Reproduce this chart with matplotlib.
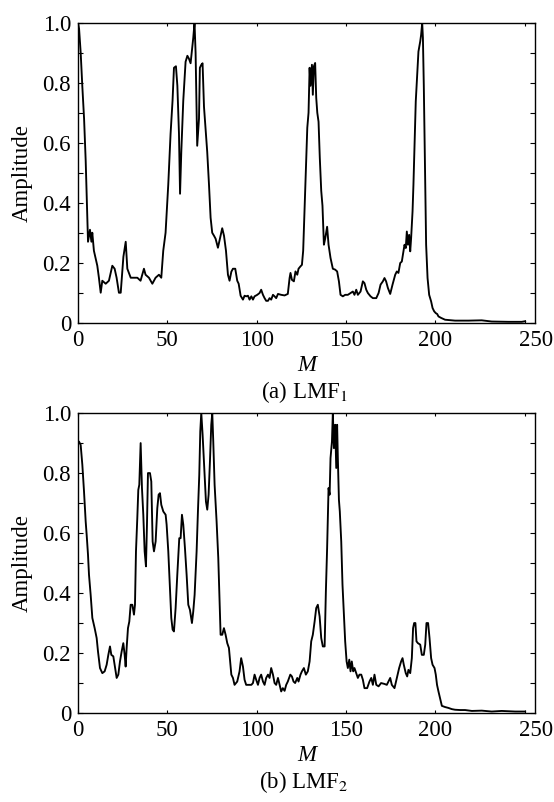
import numpy as np
import matplotlib; matplotlib.use("Agg"); import matplotlib.pyplot as plt
from matplotlib.transforms import ScaledTranslation

plt.rcParams["font.family"] = ["Liberation Serif", "DejaVu Serif"]
plt.rcParams["mathtext.fontset"] = "stix"

# ---- LMF1 ----
m1 = [0, 0.6, 1.5, 2.4, 3.4, 4.3, 5.2, 5.6, 6.7, 7.5, 8.0, 8.9, 10.8, 11.7, 12.7, 13.6, 15.5, 17.3,
      19.2, 20.5, 21.6, 22.9, 23.9, 25.4, 26.7, 27.6, 29.5, 31.3, 33.2, 35.0, 36.9, 37.8, 39.7, 41.6,
      43.4, 45.3, 46.6, 47.7, 49.0, 50.5, 51.8, 52.9, 53.7, 54.8, 55.6, 56.5, 57.1, 57.8, 58.9, 60.2,
      61.2, 62.1, 63.0, 63.9, 64.5, 65.2, 65.8, 66.7, 67.7, 68.2, 69.0, 69.7, 70.5, 72.3, 73.3, 74.2,
      75.1, 76.1, 77.0, 78.3, 79.4, 80.7, 81.7, 82.8, 83.9,
      84.8, 85.8, 86.7, 88.0, 89.1, 89.9, 91.0, 92.3, 93.2, 94.1, 95.1, 96.0, 97.0, 97.9, 98.8, 100.3,
      101.6, 102.5, 103.5, 104.4, 105.3, 106.3, 107.2, 108.1, 109.1, 110.0, 110.9, 111.9, 113.7, 115.6,
      117.4, 118.4, 118.9, 119.7, 120.8, 121.7, 122.7, 123.4, 124.5, 125.3, 126.0, 127.1, 128.3, 129.0,
      129.6, 130.1, 130.9, 131.4, 132.0, 132.7, 133.3, 133.9, 134.6, 135.3, 136.1, 136.8, 137.6, 138.3,
      139.4, 140.2, 141.3, 142.6, 143.9, 145.0, 146.0, 146.9, 148.2, 149.5, 151.0, 152.5, 153.8, 154.7,
      155.7, 156.6, 158.1, 159.4, 160.3, 161.3, 162.2, 163.7, 165.0, 166.9, 168.2, 169.3, 170.6, 171.5,
      172.4, 173.4,
      174.7, 176.0, 177.5, 178.4, 179.3, 180.3, 181.2, 182.1, 182.7, 183.4, 184.0, 184.6, 185.3, 185.9,
      186.4, 187.2, 187.7, 188.3, 189.0, 189.6, 190.5, 191.5, 192.0, 192.6, 193.0, 193.5, 193.9, 194.3,
      194.8, 195.6, 196.5, 197.6, 198.4, 199.3, 200.2, 201.0, 201.7, 203.2, 205.4, 211.0, 218.5, 225.9,
      231.5, 240.9, 248.3, 250.2]
a1 = [1.0, 0.98, 0.9, 0.79, 0.68, 0.54, 0.35, 0.27, 0.31, 0.27, 0.30, 0.24, 0.19, 0.15, 0.10, 0.14, 0.13, 0.14,
      0.19, 0.18, 0.15, 0.10, 0.10, 0.22, 0.27, 0.18, 0.15, 0.15, 0.15, 0.14, 0.18, 0.16, 0.15, 0.13,
      0.15, 0.16, 0.15, 0.24, 0.30, 0.46, 0.63, 0.74, 0.85, 0.855, 0.79, 0.63, 0.43, 0.57, 0.74, 0.87,
      0.89, 0.88, 0.865, 0.915, 0.95, 1.0, 0.9, 0.59, 0.68, 0.85, 0.86, 0.865, 0.72, 0.57, 0.46, 0.35,
      0.30, 0.29, 0.28, 0.25, 0.28, 0.315, 0.29, 0.24, 0.16,
      0.14, 0.17, 0.18, 0.18, 0.14, 0.13, 0.09, 0.077, 0.09, 0.088, 0.09, 0.077, 0.088, 0.077, 0.088, 0.093,
      0.099, 0.11, 0.093, 0.082, 0.073, 0.073, 0.082, 0.077, 0.093, 0.088, 0.082, 0.096, 0.093, 0.091,
      0.096, 0.149, 0.166, 0.143, 0.138, 0.171, 0.16, 0.18, 0.188, 0.193, 0.24, 0.44, 0.65, 0.70,
      0.85, 0.79, 0.86, 0.76, 0.855, 0.866, 0.75, 0.70, 0.67, 0.55, 0.44, 0.39, 0.26, 0.28,
      0.32, 0.26, 0.216, 0.18, 0.177, 0.171, 0.138, 0.093, 0.088, 0.093, 0.093, 0.099, 0.104, 0.093,
      0.11, 0.093, 0.104, 0.138, 0.132, 0.11, 0.099, 0.088, 0.082, 0.082, 0.099, 0.127, 0.138, 0.149,
      0.138, 0.116,
      0.096, 0.127, 0.16, 0.171, 0.166, 0.199, 0.204, 0.238, 0.26, 0.249, 0.304, 0.26, 0.293, 0.238,
      0.282, 0.371, 0.46, 0.593, 0.738, 0.804, 0.904, 0.938, 0.96, 1.0, 0.95, 0.79, 0.627, 0.46,
      0.26, 0.149, 0.093, 0.071, 0.049, 0.038, 0.032, 0.029, 0.021, 0.016, 0.01, 0.007, 0.007, 0.008,
      0.004, 0.003, 0.003, 0.005]

# ---- LMF2 ----
m2 = [0, 0.56, 1.49, 2.42, 3.36, 4.29, 4.85, 5.59, 6.15, 7.08, 8.02, 9.32, 10.44, 11.19, 12.30, 13.61,
      14.91, 16.03, 16.97, 17.90, 18.64, 19.76, 20.51, 21.63, 22.56, 23.49, 24.42, 25.35, 26.10, 26.66,
      27.22, 27.96, 28.71, 29.46, 30.39, 31.32, 31.88, 32.44, 33.18, 33.74, 34.30, 35.05, 35.79, 36.54,
      37.29, 38.03, 38.59, 39.15, 40.27, 41.01, 41.76, 42.51, 43.44, 44.37, 45.12, 45.86, 46.61, 47.73,
      49.04, 49.59, 50.52, 51.45, 52.20, 52.95, 53.69, 54.62, 55.56, 56.67, 57.42, 58.17, 58.91, 59.84,
      60.78, 61.71, 62.64, 63.76, 64.50, 65.25, 66.37, 67.11, 67.86, 68.42, 68.98, 69.72, 70.84, 71.59,
      72.33, 73.08, 73.83, 74.57, 75.13, 75.69, 76.44, 77.55, 78.49, 79.05, 79.79, 80.72, 81.66, 82.59,
      83.52, 84.45,
      85.8, 86.7, 87.6, 89.1, 90.4, 91.3, 92.3, 93.2, 94.1, 95.4, 97.0, 97.9, 98.8, 99.7, 100.7, 101.6,
      102.5, 103.5, 104.4, 105.3, 106.3, 107.2, 108.1, 109.1, 110.0, 110.9, 111.9, 112.8, 113.7, 114.6,
      115.6, 116.5, 117.4, 118.8, 119.7, 120.6, 121.5, 122.7, 123.4, 124.5, 125.3, 126.4, 127.5, 128.6,
      129.6, 130.5, 131.4, 132.4, 133.3, 134.2, 135.2, 136.1, 137.0, 138.0, 138.7, 139.4, 140.2, 140.8,
      141.3, 142.1, 142.6, 143.2, 143.9, 144.5, 145.0, 145.4, 146.0, 146.5, 147.3, 148.0, 148.8, 149.5,
      150.3, 151.0, 151.8, 152.5, 153.2, 154.0, 154.7, 155.7, 156.6, 157.5, 158.5, 159.4, 160.3, 161.8,
      163.1, 164.1, 165.0, 165.9, 166.9, 168.2, 169.6, 171.5,
      172.8, 173.7, 174.7, 175.6, 177.1, 178.4, 179.7, 180.8, 181.6, 182.3, 183.4, 184.2, 184.9, 185.9,
      186.8, 187.5, 188.1, 188.8, 189.4, 190.2, 191.5, 192.4, 193.5, 194.3, 195.0, 195.9, 196.7, 197.6,
      198.4, 199.5, 200.2, 200.9, 201.7, 202.6, 203.6, 205.4, 207.3, 209.2, 211.0, 213.8, 216.6, 220.4,
      225.9, 231.5, 237.1, 244.6, 250.2]
a2 = [0.9, 0.904, 0.893, 0.827, 0.738, 0.638, 0.593, 0.527, 0.46, 0.393, 0.316, 0.282, 0.249, 0.204, 0.149, 0.132,
      0.138, 0.16, 0.193, 0.221, 0.193, 0.188, 0.16, 0.116, 0.127, 0.171, 0.204, 0.232, 0.193, 0.154,
      0.216, 0.282, 0.304, 0.36, 0.36, 0.327, 0.36, 0.538, 0.649, 0.743, 0.76, 0.899, 0.749, 0.66,
      0.538, 0.488, 0.627, 0.799, 0.799, 0.771, 0.571, 0.538, 0.571, 0.682, 0.727, 0.732, 0.693, 0.671,
      0.66, 0.627, 0.538, 0.416, 0.316, 0.277, 0.271, 0.349, 0.46, 0.582, 0.582, 0.66, 0.627, 0.549,
      0.46, 0.36, 0.343, 0.299, 0.338, 0.393, 0.538, 0.671, 0.793, 0.938, 1.0, 0.927, 0.793, 0.704,
      0.677, 0.727, 0.838, 0.96, 1.0, 0.904, 0.76, 0.638, 0.516, 0.404, 0.26, 0.26, 0.282, 0.26,
      0.232, 0.216,
      0.127, 0.116, 0.093, 0.104, 0.138, 0.182, 0.154, 0.11, 0.093, 0.093, 0.093, 0.099, 0.127, 0.11, 0.093, 0.116,
      0.127, 0.104, 0.093, 0.116, 0.127, 0.116, 0.149, 0.127, 0.099, 0.093, 0.116, 0.093, 0.071, 0.082,
      0.073, 0.093, 0.104, 0.127, 0.121, 0.104, 0.099, 0.116, 0.104, 0.127, 0.138, 0.149, 0.127, 0.138,
      0.171, 0.238, 0.26, 0.304, 0.349, 0.36, 0.321, 0.249, 0.221, 0.221, 0.404, 0.549, 0.749, 0.727,
      0.849, 0.904, 1.0, 0.882, 0.96, 0.816, 0.96, 0.849, 0.71, 0.671, 0.571, 0.427, 0.327, 0.238,
      0.171, 0.149, 0.177, 0.138, 0.171, 0.138, 0.149, 0.132, 0.116, 0.127, 0.127, 0.11, 0.082, 0.082,
      0.104, 0.116, 0.093, 0.127, 0.093, 0.088, 0.099, 0.096,
      0.093, 0.104, 0.116, 0.093, 0.082, 0.116, 0.149, 0.171, 0.182, 0.16, 0.132, 0.121, 0.143, 0.132,
      0.182, 0.282, 0.299, 0.299, 0.238, 0.232, 0.227, 0.193, 0.193, 0.227, 0.299, 0.299, 0.249, 0.182,
      0.16, 0.149, 0.127, 0.093, 0.071, 0.049, 0.023, 0.019, 0.016, 0.012, 0.01, 0.009, 0.009, 0.006,
      0.007, 0.004, 0.006, 0.004, 0.004]

xticks = [0, 50, 100, 150, 200, 250]
yticks = [0, 0.2, 0.4, 0.6, 0.8, 1.0]
ylabels = ["0", "0.2", "0.4", "0.6", "0.8", "1.0"]
captions = ["(a) LMF$_1$", "(b) LMF$_2$"]

fig = plt.figure(figsize=(5.54, 8.02), dpi=100)
boxes = [[0.1408, 0.5976, 0.8258, 0.374], [0.1408, 0.1113, 0.8258, 0.374]]
cap_y = [0.511, 0.025]
FS = 16.5
for box, (m, a), cap, cy in zip(boxes, [(m1, a1), (m2, a2)], captions, cap_y):
    ax = fig.add_axes(box)
    ax.plot(m, a, color="k", lw=1.35)
    ax.set_xlim(0, 256); ax.set_ylim(0, 1.0)
    ax.set_xticks(xticks); ax.set_xticklabels([str(t) for t in xticks])
    ax.set_yticks(yticks); ax.set_yticklabels(ylabels)
    ax.set_yticks(np.arange(0.1, 1.0, 0.2), minor=True)
    ax.tick_params(axis="both", which="both", direction="in", top=True, right=True, labelsize=FS, pad=5)
    ax.tick_params(axis="y", which="both", length=3.5, width=0.8)
    ax.tick_params(axis="x", which="both", length=2, width=0.8)
    for sp in ax.spines.values():
        sp.set_linewidth(1.0)
    # last x label sits at the right frame in the original
    lab = ax.get_xticklabels()[-1]
    lab.set_transform(lab.get_transform() + ScaledTranslation(0.11, 0, fig.dpi_scale_trans))
    ax.set_xlabel("M", style="italic", fontsize=FS, labelpad=3)
    ax.set_ylabel("Amplitude", fontsize=FS, labelpad=7)
    fig.text(box[0] + box[2] / 2 - 0.005, cy, cap, ha="center", va="center", fontsize=FS)

fig.savefig("out.png", dpi=100)
